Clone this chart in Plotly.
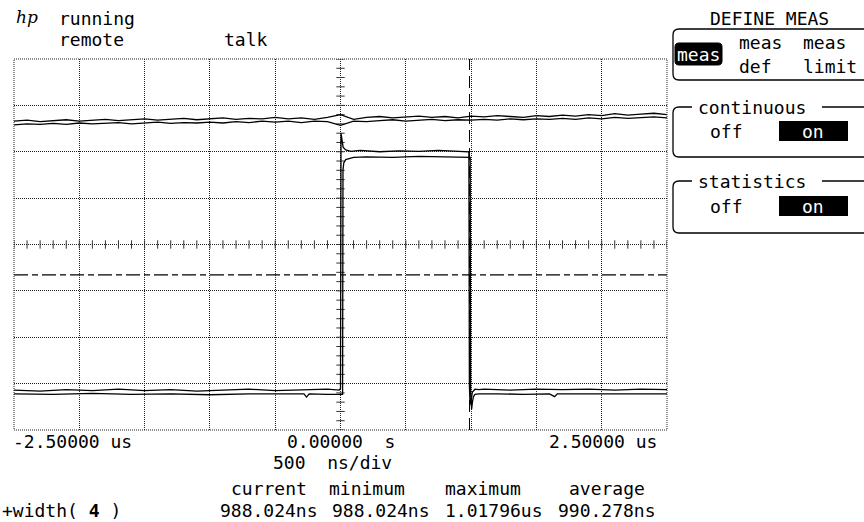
import numpy as np
import plotly.graph_objects as go

# channel traces (time in us, amplitude in divisions)
top_t = [-2.5, -2.4, -2.3, -2.2, -2.1, -2.0, -1.9, -1.8, -1.7, -1.6,
         -1.5, -1.4, -1.3, -1.2, -1.1, -1.0, -0.9, -0.8, -0.7, -0.6,
         -0.5, -0.4, -0.3, -0.2, -0.1, 0.0, 0.1, 0.2, 0.3, 0.4,
         0.5, 0.6, 0.7, 0.8, 0.9, 1.0, 1.1, 1.2, 1.3, 1.4,
         1.5, 1.6, 1.7, 1.8, 1.9, 2.0, 2.1, 2.2, 2.3, 2.4, 2.5]
top_hi = [2.66, 2.68, 2.65, 2.67, 2.69, 2.66, 2.68, 2.70, 2.67, 2.69,
          2.71, 2.68, 2.70, 2.72, 2.69, 2.71, 2.73, 2.70, 2.72, 2.71,
          2.74, 2.71, 2.73, 2.70, 2.74, 2.80, 2.70, 2.74, 2.76, 2.73,
          2.75, 2.77, 2.74, 2.76, 2.73, 2.77, 2.75, 2.78, 2.76, 2.74,
          2.78, 2.76, 2.79, 2.77, 2.80, 2.78, 2.82, 2.79, 2.81, 2.83, 2.80]
top_lo = [2.58, 2.60, 2.59, 2.61, 2.59, 2.62, 2.60, 2.61, 2.63, 2.60,
          2.62, 2.64, 2.61, 2.63, 2.62, 2.64, 2.62, 2.65, 2.63, 2.66,
          2.64, 2.66, 2.63, 2.66, 2.65, 2.57, 2.66, 2.65, 2.67, 2.69,
          2.66, 2.68, 2.70, 2.67, 2.69, 2.68, 2.70, 2.68, 2.71, 2.69,
          2.71, 2.70, 2.72, 2.70, 2.73, 2.71, 2.74, 2.72, 2.73, 2.75, 2.73]

pulse_hi_t = [-2.5, -2.3, -2.1, -1.9, -1.7, -1.5, -1.3, -1.1, -0.9, -0.7,
              -0.5, -0.3, -0.1, -0.01, 0.0, 0.004, 0.01, 0.02, 0.04, 0.08,
              0.15, 0.3, 0.45, 0.6, 0.75, 0.9, 0.975, 0.983, 0.987, 0.992,
              1.0, 1.01, 1.03, 1.06, 1.1, 1.3, 1.5, 1.7, 1.9, 2.1, 2.3, 2.5]
pulse_hi = [-3.14, -3.16, -3.13, -3.15, -3.12, -3.15, -3.13, -3.16, -3.14, -3.12,
            -3.15, -3.13, -3.12, -3.14, -3.10, 2.40, 2.25, 2.10, 2.04, 2.01,
            2.03, 2.00, 2.02, 2.01, 2.03, 2.02, 2.01, 2.00, -3.05, -3.45,
            -3.35, -3.18, -3.12, -3.13, -3.12, -3.14, -3.12, -3.13, -3.12, -3.14, -3.12, -3.13]

pulse_lo_t = [-2.5, -2.2, -1.9, -1.6, -1.3, -1.0, -0.7, -0.4, -0.28, -0.26,
              -0.24, -0.1, 0.016, 0.019, 0.025, 0.04, 0.07, 0.1, 0.2, 0.4,
              0.6, 0.8, 0.95, 0.993, 0.996, 1.004, 1.01, 1.018, 1.03, 1.06,
              1.2, 1.4, 1.6, 1.64, 1.66, 1.7, 1.9, 2.2, 2.5]
pulse_lo = [-3.22, -3.23, -3.21, -3.23, -3.22, -3.24, -3.22, -3.23, -3.22, -3.29,
            -3.22, -3.23, -3.23, 1.60, 1.76, 1.83, 1.86, 1.88, 1.89, 1.88,
            1.90, 1.89, 1.88, 1.88, -3.20, -3.55, -3.40, -3.28, -3.23, -3.22,
            -3.22, -3.23, -3.22, -3.28, -3.22, -3.22, -3.23, -3.22, -3.22]

marker_t = 0.988      # stop marker (us)
level_y = -0.655      # threshold level (div)

x_labels = ["-2.50000 us", "0.00000  s", "2.50000 us"]
stat_names = ["current", "minimum", "maximum", "average"]
stat_values = ["988.024ns", "988.024ns", "1.01796us", "990.278ns"]

FONT = "DejaVu Sans Mono"
FS = 18
# plot area in screen pixels
L, R, T, B = 14, 667, 59, 430


def px(x):
    return (x - L) / (R - L)


def py(y):
    return (B - y) / (B - T)


def text(s, x, y, size=FS, color="black", anchor="left", **kw):
    fig.add_annotation(text=s, x=px(x), y=py(y), xref="paper", yref="paper",
                       showarrow=False, xanchor=anchor, yanchor="middle",
                       font=dict(family=FONT, size=size, color=color), **kw)


def path(points, closed=False):
    # points in pixels; "Q" entries are (ctrl, end)
    out = ""
    for p in points:
        if p[0] == "Q":
            out += " Q %f,%f %f,%f" % (px(p[1]), py(p[2]), px(p[3]), py(p[4]))
        else:
            out += (" M" if not out else " L") + " %f,%f" % (px(p[0]), py(p[1]))
    return out + (" Z" if closed else "")


def rrect(x0, y0, x1, y1, r=4):
    return path([(x0 + r, y0), (x1 - r, y0), ("Q", x1, y0, x1, y0 + r),
                 (x1, y1 - r), ("Q", x1, y1, x1 - r, y1), (x0 + r, y1),
                 ("Q", x0, y1, x0, y1 - r), (x0, y0 + r), ("Q", x0, y0, x0 + r, y0)], True)


fig = go.Figure()

# graticule tick marks on the centre lines
gx = np.round(np.arange(-2.5, 2.501, 0.1), 3)
gy = np.round(np.arange(-4, 4.001, 0.2), 3)
fig.add_trace(go.Scatter(x=gx, y=np.zeros_like(gx), mode="markers", hoverinfo="skip",
                         marker=dict(symbol="line-ns", size=6, line=dict(width=1, color="#333"))))
fig.add_trace(go.Scatter(x=np.zeros_like(gy), y=gy, mode="markers", hoverinfo="skip",
                         marker=dict(symbol="line-ew", size=6, line=dict(width=1, color="#333"))))

# marker + level lines
fig.add_trace(go.Scatter(x=[marker_t, marker_t], y=[-4, 4], mode="lines", hoverinfo="skip",
                         line=dict(color="black", width=1, dash="12px,6px")))
fig.add_trace(go.Scatter(x=[-2.5, 2.5], y=[level_y, level_y], mode="lines", hoverinfo="skip",
                         line=dict(color="black", width=1.3, dash="14px,4px,6px,4px")))

for t, v in [(top_t, top_hi), (top_t, top_lo), (pulse_hi_t, pulse_hi), (pulse_lo_t, pulse_lo)]:
    fig.add_trace(go.Scatter(x=t, y=v, mode="lines", hoverinfo="skip",
                             line=dict(color="black", width=1.3)))

# dotted border
fig.add_shape(type="rect", xref="paper", yref="paper", x0=0, y0=0, x1=1, y1=1,
              line=dict(color="#222", width=1, dash="1px,1px"))

# top-left status
fig.add_annotation(text="<i>hp</i>", x=px(14), y=py(17), xref="paper", yref="paper",
                   showarrow=False, xanchor="left", yanchor="middle",
                   font=dict(family="DejaVu Serif", size=17, color="black"))
text("running", 57, 18.5)
text("remote", 57, 39.5)
text("talk", 222, 39.5)

# right softkey panel
text("DEFINE MEAS", 708, 19)
pan = dict(type="path", xref="paper", yref="paper", line=dict(color="black", width=1.3))
fig.add_shape(path=path([(864, 29), (679, 29), ("Q", 673, 29, 673, 35), (673, 74),
                         ("Q", 673, 80, 679, 80), (864, 80)]), **pan)
fig.add_shape(type="path", xref="paper", yref="paper", path=rrect(675, 43, 722, 65),
              fillcolor="black", line=dict(color="black", width=1))
text("meas", 698.5, 54, color="white", anchor="center")
text("meas", 737, 43)
text("def", 737, 66)
text("meas", 801, 43)
text("limit", 801, 66)

for y0, y1, title in [(107, 157, "continuous"), (181, 233, "statistics")]:
    fig.add_shape(path=path([(692, y0), (679, y0), ("Q", 673, y0, 673, y0 + 6), (673, y1 - 6),
                             ("Q", 673, y1, 679, y1), (864, y1)]), **pan)
    fig.add_shape(path=path([(822, y0), (864, y0)]), **pan)
    text(title, 696, y0)
    mid = (y0 + y1) / 2 - 1
    text("off", 708, mid)
    fig.add_shape(type="rect", xref="paper", yref="paper", x0=px(779), x1=px(848),
                  y0=py(mid - 10), y1=py(mid + 10), fillcolor="black", line=dict(width=0))
    text("on", 813, mid, color="white", anchor="center")

# time axis labels
for s, x in zip(x_labels, [11, 285, 547]):
    text(s, x, 441)
text("500  ns/div", 271, 463)

# measurement readout
for s, x in zip(stat_names, [229, 327, 443, 567]):
    text(s, x, 488)
for s, x in zip(stat_values, [218, 330, 443, 556]):
    text(s, x, 510)
text("+width( <b>4</b> )", 0, 510)

fig.update_xaxes(range=[-2.5, 2.5], tick0=-2.5, dtick=0.5, showgrid=True, gridcolor="#222",
                 griddash="1px,1px", gridwidth=1, zeroline=False, showline=False,
                 showticklabels=False, ticks="", fixedrange=True)
fig.update_yaxes(range=[-4, 4], tick0=-4, dtick=1, showgrid=True, gridcolor="#222",
                 griddash="1px,1px", gridwidth=1, zeroline=False, showline=False,
                 showticklabels=False, ticks="", fixedrange=True)

fig.update_layout(
    width=864, height=522,
    margin=dict(l=L, r=864 - R, t=T, b=522 - B),
    plot_bgcolor="white", paper_bgcolor="white",
    showlegend=False, hovermode=False,
)

# page has a default 8px body margin; the screen capture is flush to the corner
fig.write_html("out.html", config={"displayModeBar": False},
               post_script="document.body.style.margin='0';")
